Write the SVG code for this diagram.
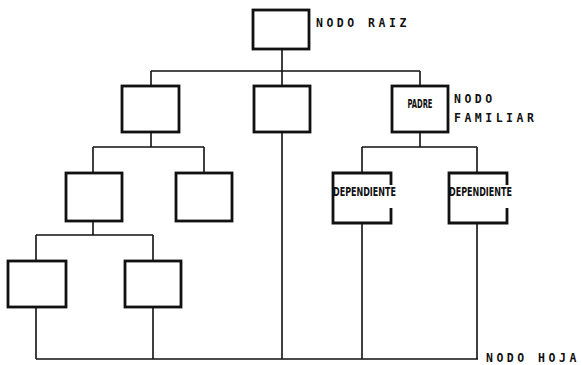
<svg xmlns="http://www.w3.org/2000/svg" width="582" height="365" viewBox="0 0 582 365">
<style>
.box{fill:#fff;stroke:#111;stroke-width:2.8}
.open{fill:none;stroke:#111;stroke-width:2.8}
.ln{fill:none;stroke:#111;stroke-width:1.6}
.lbl{font-family:"DejaVu Sans Mono",monospace;font-weight:bold;font-size:11.5px;letter-spacing:3.5px;fill:#111}
.in{font-family:"Liberation Sans Narrow","DejaVu Sans Condensed",sans-serif;font-weight:bold;font-size:12.5px;fill:#111}
</style>
<rect width="582" height="365" fill="#fff"/>
<g id="connectors">
<path class="ln" d="M282 49V71M151 71H420M151 71V86M282 71V86M420 71V86"/>
<path class="ln" d="M151 132V147M93 147H204M93 147V173M204 147V173"/>
<path class="ln" d="M93 221V235M36 235H153M36 235V261M153 235V261"/>
<path class="ln" d="M420 132V147M362 147H477M362 147V173M477 147V173"/>
<path class="ln" d="M36 307V359M153 307V359M282 132V359M362 223V359M477 223V359M36 359H478"/>
</g>
<g id="root"><rect class="box" x="253" y="10" width="56" height="39"/></g>
<g id="n1a"><rect class="box" x="122" y="86" width="57" height="46"/></g>
<g id="n1b"><rect class="box" x="254" y="86" width="56" height="46"/></g>
<g id="padre"><rect class="box" x="392" y="86" width="56" height="46"/><text class="in" x="420" y="108" text-anchor="middle" textLength="25" lengthAdjust="spacingAndGlyphs">PADRE</text></g>
<g id="n2a"><rect class="box" x="66" y="173" width="56" height="48"/></g>
<g id="n2b"><rect class="box" x="176" y="173" width="56" height="48"/></g>
<g id="n3a"><rect class="box" x="8" y="261" width="58" height="46"/></g>
<g id="n3b"><rect class="box" x="125" y="261" width="56" height="46"/></g>
<g id="dep1"><path class="open" d="M391 185V173H333V223H391V208"/><text class="in" x="333" y="196" textLength="63" lengthAdjust="spacingAndGlyphs">DEPENDIENTE</text></g>
<g id="dep2"><path class="open" d="M507 185V173H449V223H507V208"/><text class="in" x="449" y="196" textLength="63" lengthAdjust="spacingAndGlyphs">DEPENDIENTE</text></g>
<g id="labels">
<text class="lbl" x="316" y="27">NODO RAIZ</text>
<text class="lbl" x="454" y="103">NODO</text>
<text class="lbl" x="454" y="122">FAMILIAR</text>
<text class="lbl" x="486" y="362">NODO HOJA</text>
</g>
</svg>
